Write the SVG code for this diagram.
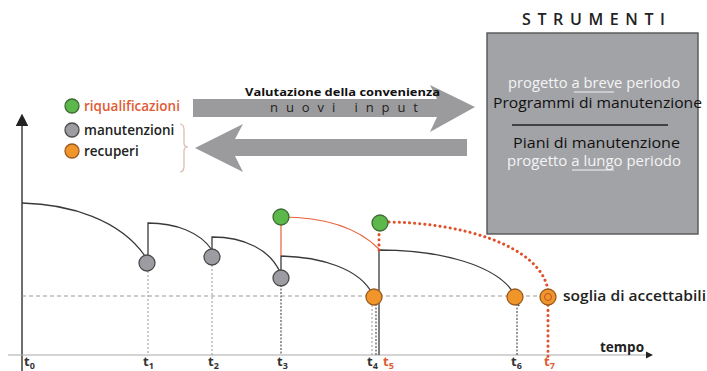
<svg xmlns="http://www.w3.org/2000/svg" width="707" height="371" viewBox="0 0 707 371">
  <style>
    .t { font-family: "Open Sans", "Noto Sans", sans-serif; }
    .leg { font-size: 13.5px; font-weight: 600; fill: #222; }
    .tick { font-size: 13px; font-weight: 700; fill: #333; }
    .curve { fill: none; stroke: #3a3a3a; stroke-width: 1.3; }
    .drop { fill: none; stroke: #999; stroke-width: 1; stroke-dasharray: 2 2; }
    .dropd { fill: none; stroke: #555; stroke-width: 1.2; stroke-dasharray: 2 1.5; }
    .red { fill: none; stroke: #e8603a; stroke-width: 1.2; }
    .reddot { fill: none; stroke: #e0502a; stroke-width: 3; stroke-dasharray: 0.1 5; stroke-linecap: round; }
    .green { fill: #5cb84a; stroke: #3f6a35; stroke-width: 1.3; }
    .grey { fill: #9c9ca2; stroke: #4a4a4a; stroke-width: 1.3; }
    .orange { fill: #f0952a; stroke: #9a5a20; stroke-width: 1.3; }
    .arrow { fill: #9b9b9d; }
    .white { fill: #f4f4f4; font-size: 14px; }
    .dark { fill: #111; font-size: 15px; }
  </style>
  <defs>
    <marker id="ah" viewBox="0 0 10 10" refX="5" refY="5" markerWidth="8" markerHeight="8" orient="auto">
      <path d="M0,0 L10,5 L0,10 z" fill="#222"/>
    </marker>
  </defs>
  <rect width="707" height="371" fill="#ffffff"/>

  <!-- axes -->
  <g id="axes">
    <line x1="22" y1="371" x2="22" y2="120" stroke="#4a4a4a" stroke-width="1.6" marker-end="url(#ah)"/>
    <line x1="8" y1="355" x2="646" y2="355" stroke="#aaa" stroke-width="1.2"/>
    <path d="M646,351.5 L653,355 L646,358.5 z" fill="#222"/>
    <line x1="22" y1="296" x2="545" y2="296" stroke="#999" stroke-width="1" stroke-dasharray="4 3"/>
  </g>

  <!-- connectors: curves, drop lines, arrows -->
  <g id="connectors">
    <path class="drop" d="M148,263 V355"/>
    <path class="drop" d="M212,257 V355"/>
    <path class="dropd" d="M281,278 V355"/>
    <path class="drop" d="M372,297 V355"/>
    <path class="dropd" d="M376,297 V355"/>
    <path class="dropd" d="M517,297 V355"/>

    <path class="curve" d="M22,203 C70,204 120,220 145,256"/>
    <path class="curve" d="M148,263 V223 C175,223 200,232 212,250"/>
    <path class="curve" d="M212,257 V237 C245,237 270,250 280,272"/>
    <path class="curve" d="M281,278 V256 C320,257 360,268 373,295"/>
    <path class="curve" d="M379,355 V250 C440,250 500,265 516,297 L519,306"/>

    <path class="red" d="M281,256 V217 C320,217 355,225 379,249"/>
    <path class="reddot" d="M379,250 V226"/>
    <path class="reddot" d="M384,222 C460,222 540,245 548,290 V358"/>

    <!-- arrows between legend and tools -->
    <path class="arrow" d="M193,99 H437 L430,85 L475,107 L430,132 L437,117 H193 z"/>
    <path class="arrow" d="M467,139 H235 L243,124 L195,148 L243,172 L235,156 H467 z"/>
    <path d="M180,124 Q184,124 184,130 V143 Q184,147 188,147 Q184,147 184,151 V166 Q184,172 180,172" fill="none" stroke="#d9b7aa" stroke-width="1.2"/>
  </g>

  <!-- legend -->
  <g id="legend">
    <circle class="green" cx="72" cy="106" r="7"/>
    <text class="t leg" x="84" y="111" style="fill:#e05a36">riqualificazioni</text>
    <circle class="grey" cx="72" cy="130" r="7"/>
    <text class="t leg" x="84" y="134.5">manutenzioni</text>
    <circle class="orange" cx="72" cy="151" r="7"/>
    <text class="t leg" x="84" y="155.5">recuperi</text>
  </g>

  <g id="arrow-labels">
    <text class="t" x="245" y="96" font-size="11" font-weight="700" fill="#111" textLength="195" lengthAdjust="spacingAndGlyphs">Valutazione della convenienza</text>
    <text class="t" x="270" y="112" font-size="13" fill="#222" textLength="148" lengthAdjust="spacing">nuovi input</text>
  </g>

  <!-- tools box -->
  <g id="strumenti">
    <text class="t" x="522" y="25" font-size="16" font-weight="600" fill="#222" textLength="143" lengthAdjust="spacing">STRUMENTI</text>
    <rect x="487" y="33" width="211" height="201" fill="#a2a3a7" stroke="#555" stroke-width="1.4"/>
    <text class="t white" x="508" y="88" textLength="172" lengthAdjust="spacingAndGlyphs">progetto a breve periodo</text>
    <line x1="574" y1="92" x2="614" y2="92" stroke="#f4f4f4" stroke-width="1.2"/>
    <text class="t dark" x="493" y="107.5" textLength="209" lengthAdjust="spacingAndGlyphs">Programmi di manutenzione</text>
    <line x1="512" y1="125" x2="668" y2="125" stroke="#222" stroke-width="1.4"/>
    <text class="t dark" x="513" y="148" textLength="167" lengthAdjust="spacingAndGlyphs">Piani di manutenzione</text>
    <text class="t white" x="507" y="166" textLength="174" lengthAdjust="spacingAndGlyphs">progetto a lungo periodo</text>
    <line x1="572" y1="170" x2="614" y2="170" stroke="#f4f4f4" stroke-width="1.2"/>
  </g>

  <!-- event nodes on the timeline -->
  <g id="n-t1"><circle class="grey" cx="147" cy="263" r="8"/></g>
  <g id="n-t2"><circle class="grey" cx="212" cy="257" r="8"/></g>
  <g id="n-t3"><circle class="grey" cx="281" cy="278" r="8"/></g>
  <g id="n-t3-riq"><circle class="green" cx="281" cy="217" r="8"/></g>
  <g id="n-t4"><circle class="orange" cx="374" cy="297" r="8"/></g>
  <g id="n-t5-riq"><circle class="green" cx="380" cy="223" r="8"/></g>
  <g id="n-t6"><circle class="orange" cx="515" cy="297" r="8"/></g>
  <g id="n-t7"><circle class="orange" cx="548" cy="297" r="8"/><circle cx="548" cy="297" r="3.5" fill="none" stroke="#c0502a" stroke-width="1"/></g>

  <g id="labels">
    <text class="t" x="563" y="301" font-size="14" font-weight="600" fill="#222" textLength="143" lengthAdjust="spacingAndGlyphs">soglia di accettabili</text>
    <text class="t" x="600" y="352" font-size="13.5" font-weight="700" fill="#222">tempo</text>
    <text class="t tick" x="24" y="366">t<tspan font-size="9" dy="3">0</tspan></text>
    <text class="t tick" x="143" y="366">t<tspan font-size="9" dy="3">1</tspan></text>
    <text class="t tick" x="208" y="366">t<tspan font-size="9" dy="3">2</tspan></text>
    <text class="t tick" x="277" y="366">t<tspan font-size="9" dy="3">3</tspan></text>
    <text class="t tick" x="367" y="366">t<tspan font-size="9" dy="3">4</tspan></text>
    <text class="t tick" x="383" y="366" style="fill:#e05a36">t<tspan font-size="9" dy="3">5</tspan></text>
    <text class="t tick" x="511" y="366">t<tspan font-size="9" dy="3">6</tspan></text>
    <text class="t tick" x="544" y="366" style="fill:#e05a36">t<tspan font-size="9" dy="3">7</tspan></text>
  </g>
</svg>
